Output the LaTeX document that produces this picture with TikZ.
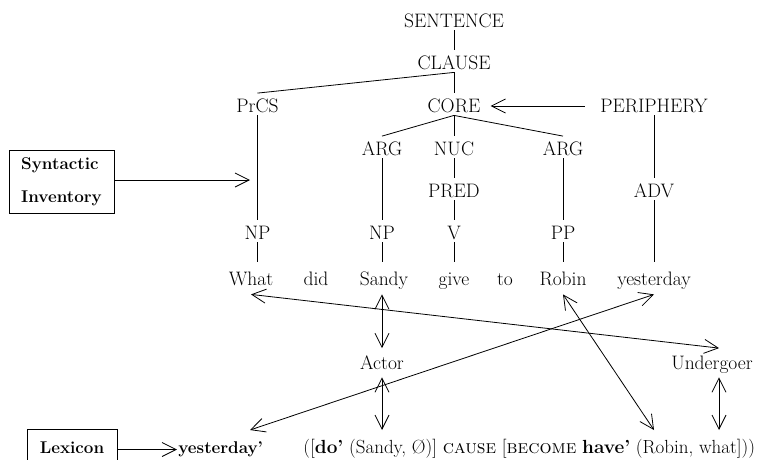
\documentclass[tikz,border=0pt]{standalone}
\usetikzlibrary{arrows.meta}
\begin{document}
\begin{tikzpicture}[x=1pt,y=-1pt,line width=0.8pt,
  every node/.style={font=\fontsize{19.5}{23}\selectfont, inner sep=0pt},
  bfont/.style={font=\fontsize{17}{21}\selectfont\bfseries},
  lab/.style={anchor=base, text height=18.5pt, text depth=3pt},
  word/.style={anchor=base, text height=23pt, text depth=9pt},
  role/.style={anchor=base, text height=20.5pt, text depth=8pt},
  barb/.style={-{Straight Barb[length=14pt,width=14pt]}},
  dbarb/.style={{Straight Barb[length=14pt,width=14pt]}-{Straight Barb[length=14pt,width=14pt]}}]
\useasboundingbox (0,0) rectangle (765,459);
\clip (0,0) rectangle (765,459);

% tree labels
\node[lab] (S)   at (454,27)  {SENTENCE};
\node[lab] (CL)  at (454,69)  {CLAUSE};
\node[lab] (PR)  at (257.5,112) {PrCS};
\node[lab] (CO)  at (454,112) {CORE};
\node[lab] (PE)  at (654,112) {PERIPHERY};
\node[lab] (A1)  at (382,155) {ARG};
\node[lab] (NU)  at (454,155) {NUC};
\node[lab] (A2)  at (563,155) {ARG};
\node[lab] (PD)  at (454,197) {PRED};
\node[lab] (AD)  at (654,197) {ADV};
\node[lab] (NP1) at (257.5,239) {NP};
\node[lab] (NP2) at (382,239) {NP};
\node[lab] (V)   at (454,239) {V};
\node[lab] (PP)  at (563,239) {PP};

% words
\node[word] (w1) at (251,285) {What};
\node[word] (w2) at (316,285) {did};
\node[word] (w3) at (384,285) {Sandy};
\node[word] (w4) at (454,285) {give};
\node[word] (w5) at (505,285) {to};
\node[word] (w6) at (563,285) {Robin};
\node[word] (w7) at (654,285) {yesterday};

% roles
\node[role] (act) at (382,369) {Actor};
\node[role] (und) at (712,369) {Undergoer};

% boxes
\node[draw, minimum width=105pt, minimum height=63pt, align=left,
      font=\fontsize{17}{33}\selectfont\bfseries] (si) at (61.5,181.5) {Syntactic\\Inventory};
\node[draw, anchor=base, minimum width=90pt, text height=24pt, text depth=17pt, bfont] (lex) at (72,453) {Lexicon};

% bottom row
\node[anchor=base west, bfont] (yl) at (178,453) {yesterday’};
\node[anchor=base west, font=\fontsize{19}{23}\selectfont] (lsf) at (303,453) {([\textbf{do’} (Sandy, Ø)] \textsc{cause} [\textsc{become} \textbf{have’} (Robin, what]))};

% free ends
\coordinate (sitip) at (250,180);
\coordinate (ylt) at (250,430);
\coordinate (sat) at (382,430);
\coordinate (rot) at (654,430);
\coordinate (wht) at (719,430);

% tree connectors
\draw (S.south) -- (CL.north);
\draw (CL.south) -- (PR.north);
\draw (CL.south) -- (CO.north);
\draw (CO.south) -- (A1.north);
\draw (CO.south) -- (NU.north);
\draw (CO.south) -- (A2.north);
\draw (PR.south) -- (NP1.north);
\draw (A1.south) -- (NP2.north);
\draw (NU.south) -- (PD.north);
\draw (PD.south) -- (V.north);
\draw (A2.south) -- (PP.north);
\draw (PE.south) -- (AD.north);
\draw (NP1.south) -- (NP1.south |- w1.north);
\draw (NP2.south) -- (NP2.south |- w3.north);
\draw (V.south) -- (V.south |- w4.north);
\draw (PP.south) -- (PP.south |- w6.north);
\draw (AD.south) -- (AD.south |- w7.north);

\draw[barb, shorten <=15pt, shorten >=10pt] ([yshift=6pt]PE.base west) -- ([yshift=6pt]CO.base east);
\draw[barb] (si.east |- sitip) -- (sitip);
\draw[barb, shorten >=1pt] (lex.east) -- (lex.east -| yl.west);

% linking arrows
\draw[dbarb] (w1.south) -- ([xshift=7pt]und.north);
\draw[dbarb] (w3.south -| act.north) -- (act.north);
\draw[dbarb] (w7.south) -- (ylt);
\draw[dbarb] (w6.south) -- (rot);
\draw[dbarb] (act.south) -- (sat);
\draw[dbarb] ([xshift=7pt]und.south) -- (wht);
\end{tikzpicture}
\end{document}
